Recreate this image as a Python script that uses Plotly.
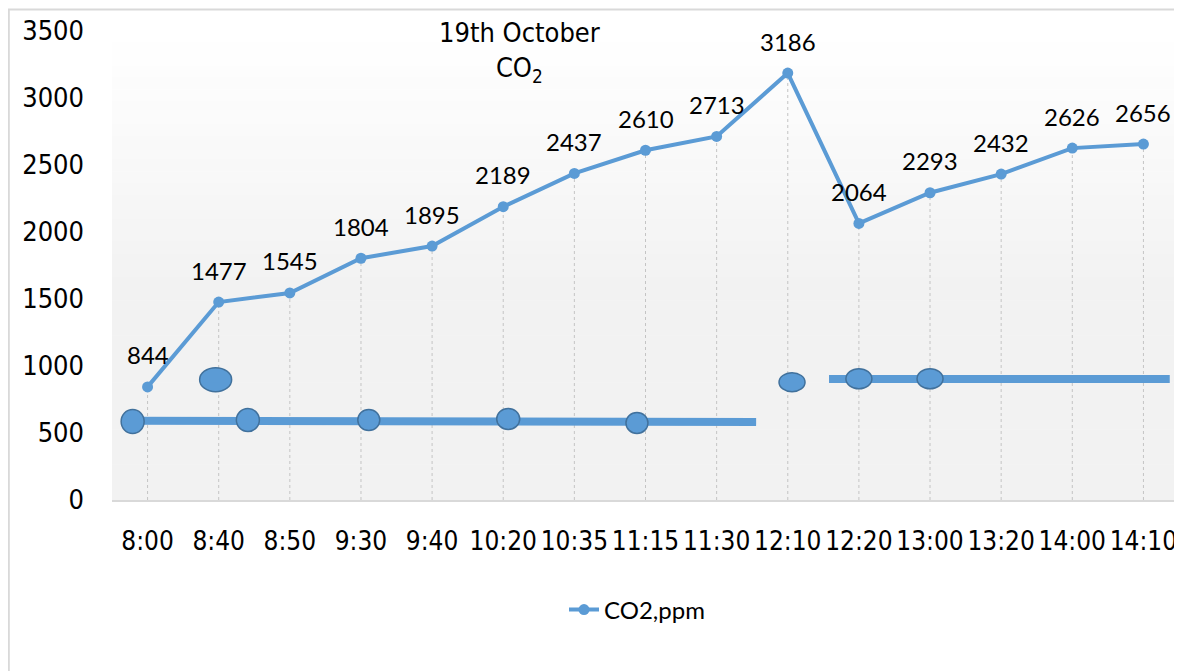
import plotly.graph_objects as go

# ---------------- data ----------------
times = ["8:00", "8:40", "8:50", "9:30", "9:40", "10:20", "10:35", "11:15",
         "11:30", "12:10", "12:20", "13:00", "13:20", "14:00", "14:10"]
co2_ppm = [844, 1477, 1545, 1804, 1895, 2189, 2437, 2610, 2713, 3186,
           2064, 2293, 2432, 2626, 2656]
y_ticks = [0, 500, 1000, 1500, 2000, 2500, 3000, 3500]
series_name = "CO2,ppm"

# hand-drawn overlay marks (category index, ppm)
overlay_ellipse_x = [-0.21, 0.957, 1.41, 3.11, 5.07, 6.88, 9.06, 10.0, 11.0]
overlay_ellipse_y = [586, 898, 597, 597, 605, 575, 879, 905, 905]
overlay_ellipse_w = [23, 32, 23, 22, 23, 22, 26, 26, 26]
overlay_ellipse_h = [24, 24, 23, 21, 21, 21, 19, 20, 20]
overlay_bar1_x = [-0.21, 8.555]
overlay_bar1_y = [592, 582]
overlay_bar2_x = [9.58, 14.37]
overlay_bar2_y = [903, 903]

# ---------------- styles ----------------
BLUE = "#5B9BD5"
BLUE_DARK = "#41719C"
NARROW = "DejaVu Sans Condensed, Liberation Sans Narrow, sans-serif"
LABEL_FONT = "Lato, Open Sans, sans-serif"

OFF = 8                      # page body margin of the html output
W, H = 1182 - OFF, 671 - OFF
L, T = 112 - OFF, 31 - OFF
R = W - (1179 - OFF)
B = H - (500 - OFF)
PW = W - L - R
PH = H - T - B


def px_x(p):   # reference page px -> paper x
    return (p - OFF - L) / PW


def px_y(p):   # reference page px -> paper y
    return (T + PH - (p - OFF)) / PH


fig = go.Figure()

# drop lines
dx, dy = [], []
for t, v in zip(times, co2_ppm):
    dx += [t, t, None]
    dy += [0, v, None]
fig.add_trace(go.Scatter(x=dx, y=dy, mode="lines",
                         line=dict(color="#c4c4c4", width=1, dash="dot"),
                         hoverinfo="skip", showlegend=False))

# main series
fig.add_trace(go.Scatter(x=times, y=co2_ppm, mode="lines+markers",
                         name=series_name,
                         line=dict(color=BLUE, width=4),
                         marker=dict(color=BLUE, size=11)))

# data labels
for t, v in zip(times, co2_ppm):
    fig.add_annotation(x=t, y=v, xref="x", yref="y", text=str(v),
                       showarrow=False, yshift=32,
                       font=dict(family=LABEL_FONT, size=24, color="black"))

shapes = []
# gradient plot background (white at top -> light grey)
n = 40
top_c, bot_c = (255, 255, 255), (242, 242, 242)
for i in range(n):
    y1 = 1 - i / n
    y0 = 1 - (i + 1) / n
    f = min(1.0, (i + 0.5) / (n * 0.55))
    c = tuple(round(top_c[k] + (bot_c[k] - top_c[k]) * f) for k in range(3))
    shapes.append(dict(type="rect", xref="x domain", yref="y domain",
                       x0=0, x1=1, y0=y0, y1=y1 + 0.001, layer="below",
                       line=dict(width=0), fillcolor="rgb(%d,%d,%d)" % c))

# chart border
shapes.append(dict(type="rect", xref="paper", yref="paper",
                   x0=(0.8 - L) / PW, x1=(W + 10 - L) / PW,
                   y0=(T + PH - (H + 10)) / PH, y1=(T + PH - 1.5) / PH,
                   line=dict(color="#d9d9d9", width=2), fillcolor="rgba(0,0,0,0)",
                   layer="below"))

# overlay bars
for xs, ys in ((overlay_bar1_x, overlay_bar1_y), (overlay_bar2_x, overlay_bar2_y)):
    shapes.append(dict(type="line", xref="x", yref="y",
                       x0=xs[0], x1=xs[1], y0=ys[0], y1=ys[1],
                       line=dict(color=BLUE, width=8), layer="above"))
# overlay ellipses
for ex, ey, ew, eh in zip(overlay_ellipse_x, overlay_ellipse_y,
                          overlay_ellipse_w, overlay_ellipse_h):
    shapes.append(dict(type="circle", xref="x", yref="y",
                       xsizemode="pixel", ysizemode="pixel",
                       xanchor=ex, yanchor=ey,
                       x0=-ew / 2, x1=ew / 2, y0=-eh / 2, y1=eh / 2,
                       fillcolor=BLUE, line=dict(color=BLUE_DARK, width=1.5),
                       layer="above"))

# title
fig.add_annotation(xref="paper", yref="paper",
                   x=px_x(519.5), y=px_y(51.5),
                   xanchor="center", yanchor="middle",
                   text="19th October<br>CO<sub>2</sub>", showarrow=False,
                   font=dict(family=NARROW, size=27, color="black"))

fig.update_layout(
    width=W, height=H,
    margin=dict(l=L, r=R, t=T, b=B, pad=0, autoexpand=False),
    paper_bgcolor="white",
    plot_bgcolor="rgba(0,0,0,0)",
    shapes=shapes,
    showlegend=True,
    legend=dict(orientation="h", x=px_x(637), xanchor="center",
                y=px_y(610), yanchor="middle",
                font=dict(family=LABEL_FONT, size=24, color="black"),
                bgcolor="rgba(0,0,0,0)"),
    xaxis=dict(type="category", categoryorder="array", categoryarray=times,
               range=[-0.5, len(times) - 0.5],
               showgrid=False, zeroline=False,
               showline=True, linecolor="#d9d9d9", linewidth=2,
               ticks="", ticklabelstandoff=17, tickangle=0, automargin=False,
               tickfont=dict(family=NARROW, size=26, color="black"),
               fixedrange=True),
    yaxis=dict(range=[0, 3500], tickvals=y_ticks,
               showgrid=False, zeroline=False, showline=False,
               ticks="", ticklabelstandoff=27, automargin=False,
               tickfont=dict(family=NARROW, size=27, color="black"),
               fixedrange=True),
)

fig.write_html("out.html")
